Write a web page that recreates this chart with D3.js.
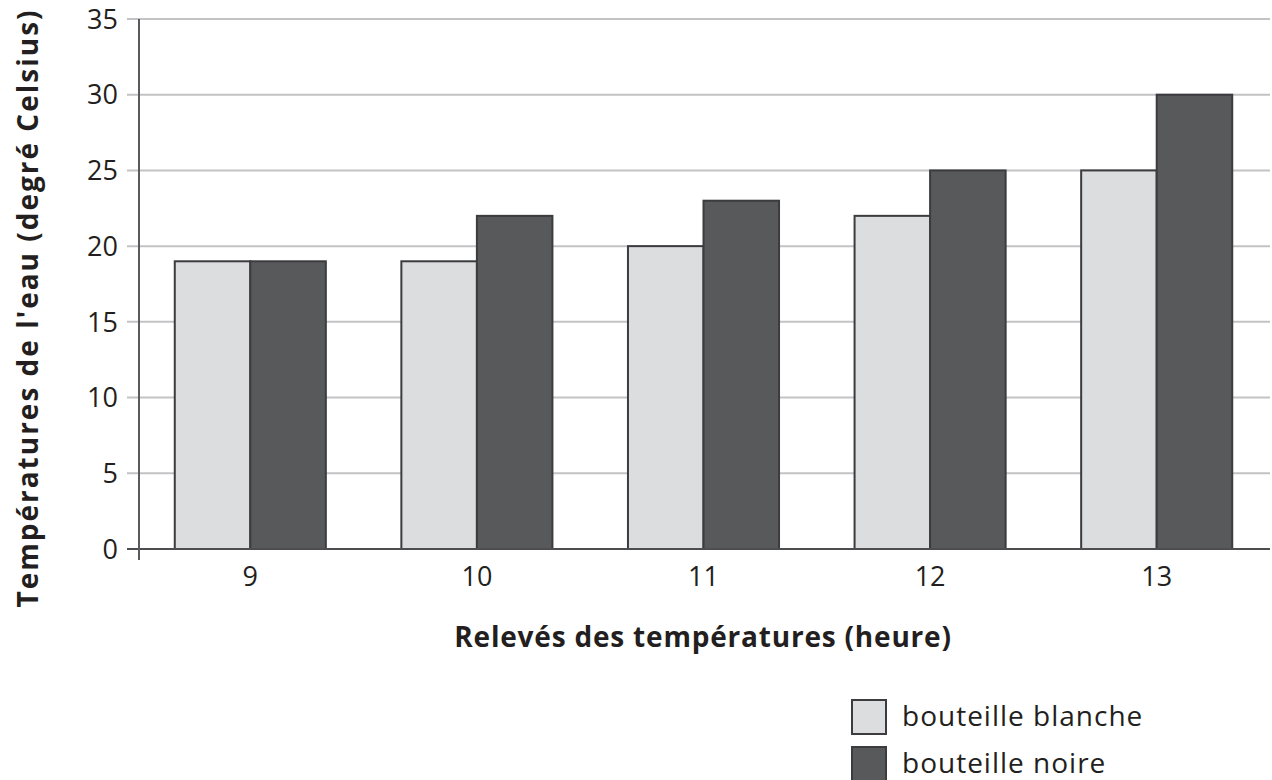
<!DOCTYPE html>
<html>
<head>
<meta charset="utf-8">
<script src="https://cdn.jsdelivr.net/npm/d3@7"></script>
<style>
  body { margin: 0; background: #fff; }
  svg text { font-family: "Open Sans", "Noto Sans", sans-serif; fill: #231f20; }
</style>
</head>
<body>
<div class="canvas"></div>
<script>
// Data
const hours = ['9', '10', '11', '12', '13']
const seriesNames = ['bouteille blanche', 'bouteille noire']
const blanche = [19, 19, 20, 22, 25]
const noire = [19, 22, 23, 25, 30]
const yTicks = [0, 5, 10, 15, 20, 25, 30, 35]
const colors = ['#dcdddf', '#58595b']

const width = 1272
const height = 780

const svg = d3.select('.canvas')
  .append('svg')
  .attr('width', width)
  .attr('height', height)

// Scales
const x = d3.scaleBand()
  .domain(hours)
  .range([137, 1270])
  .paddingInner(1 / 3)
  .paddingOuter(1 / 6)

const xSub = d3.scaleBand()
  .domain(seriesNames)
  .range([0, x.bandwidth()])

const y = d3.scaleLinear()
  .domain([0, 35])
  .range([549, 19])

// Gridlines
svg.append('g')
  .selectAll('line')
  .data(yTicks.filter(d => d > 0))
  .enter()
  .append('line')
  .attr('x1', 127)
  .attr('x2', 1270)
  .attr('y1', d => y(d))
  .attr('y2', d => y(d))
  .attr('stroke', '#c3c3c6')
  .attr('stroke-width', 2)

// Y tick labels
svg.append('g')
  .selectAll('text')
  .data(yTicks)
  .enter()
  .append('text')
  .attr('x', 118)
  .attr('y', d => y(d))
  .attr('dy', '0.36em')
  .attr('text-anchor', 'end')
  .attr('font-size', 27)
  .text(d => d)

// Bars
const rows = hours.map((h, i) => ({ hour: h, values: [blanche[i], noire[i]] }))

const groups = svg.append('g')
  .selectAll('g')
  .data(rows)
  .enter()
  .append('g')
  .attr('transform', d => `translate(${x(d.hour)}, 0)`)

groups.selectAll('rect')
  .data(d => d.values.map((v, j) => ({ name: seriesNames[j], value: v, idx: j })))
  .enter()
  .append('rect')
  .attr('x', d => xSub(d.name))
  .attr('y', d => y(d.value))
  .attr('width', xSub.bandwidth())
  .attr('height', d => y(0) - y(d.value))
  .attr('fill', d => colors[d.idx])
  .attr('stroke', '#3c3c3e')
  .attr('stroke-width', 2)

// Axes lines
svg.append('line')
  .attr('x1', 127).attr('x2', 1270)
  .attr('y1', y(0)).attr('y2', y(0))
  .attr('stroke', '#4d4d4f')
  .attr('stroke-width', 2)

svg.append('line')
  .attr('x1', 139).attr('x2', 139)
  .attr('y1', y(35)).attr('y2', 560)
  .attr('stroke', '#5a5a5c')
  .attr('stroke-width', 2)

// X tick labels
svg.append('g')
  .selectAll('text')
  .data(hours)
  .enter()
  .append('text')
  .attr('x', d => x(d) + x.bandwidth() / 2)
  .attr('y', 586)
  .attr('text-anchor', 'middle')
  .attr('font-size', 27)
  .text(d => d)

// Axis titles
svg.append('text')
  .attr('x', 703)
  .attr('y', 647)
  .attr('text-anchor', 'middle')
  .attr('font-size', 28)
  .attr('font-weight', 'bold')
  .attr('letter-spacing', 0.8)
  .text('Relevés des températures (heure)')

svg.append('text')
  .attr('transform', 'translate(38, 308) rotate(-90)')
  .attr('text-anchor', 'middle')
  .attr('font-size', 28)
  .attr('font-weight', 'bold')
  .attr('letter-spacing', 2)
  .text("Températures de l'eau (degré Celsius)")

// Legend
const legend = svg.append('g')
  .selectAll('g')
  .data(seriesNames)
  .enter()
  .append('g')
  .attr('transform', (d, i) => `translate(852, ${700 + i * 47})`)

legend.append('rect')
  .attr('width', 34)
  .attr('height', 34)
  .attr('fill', (d, i) => colors[i])
  .attr('stroke', '#3c3c3e')
  .attr('stroke-width', 2)

legend.append('text')
  .attr('x', 50)
  .attr('y', 26)
  .attr('font-size', 28)
  .attr('letter-spacing', 1)
  .text(d => d)
</script>
</body>
</html>
